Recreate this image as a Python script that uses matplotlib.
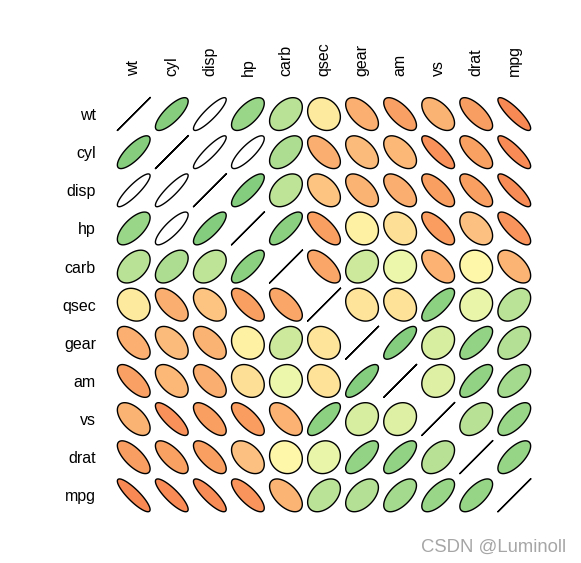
import numpy as np
import matplotlib
matplotlib.use('Agg')
import matplotlib.pyplot as plt
from matplotlib.colors import LinearSegmentedColormap

plt.rcParams['font.family'] = ['Liberation Sans', 'DejaVu Sans']

# mtcars correlations, hclust order
var_names = ["wt", "cyl", "disp", "hp", "carb", "qsec", "gear", "am", "vs", "drat", "mpg"]
corr_rows = [
    [1.000, 0.782, 0.888, 0.659, 0.428, -0.175, -0.583, -0.692, -0.555, -0.712, -0.868],
    [0.782, 1.000, 0.902, 0.832, 0.527, -0.591, -0.493, -0.523, -0.811, -0.700, -0.852],
    [0.888, 0.902, 1.000, 0.791, 0.395, -0.434, -0.556, -0.591, -0.710, -0.710, -0.848],
    [0.659, 0.832, 0.791, 1.000, 0.750, -0.708, -0.126, -0.243, -0.723, -0.449, -0.776],
    [0.428, 0.527, 0.395, 0.750, 1.000, -0.656, 0.274, 0.058, -0.570, -0.091, -0.551],
    [-0.175, -0.591, -0.434, -0.708, -0.656, 1.000, -0.213, -0.230, 0.745, 0.091, 0.419],
    [-0.583, -0.493, -0.556, -0.126, 0.274, -0.213, 1.000, 0.794, 0.206, 0.700, 0.480],
    [-0.692, -0.523, -0.591, -0.243, 0.058, -0.230, 0.794, 1.000, 0.168, 0.713, 0.600],
    [-0.555, -0.811, -0.710, -0.723, -0.570, 0.745, 0.206, 0.168, 1.000, 0.440, 0.664],
    [-0.712, -0.700, -0.710, -0.449, -0.091, 0.091, 0.700, 0.713, 0.440, 1.000, 0.681],
    [-0.868, -0.852, -0.848, -0.776, -0.551, 0.419, 0.480, 0.600, 0.664, 0.681, 1.000],
]
corr = np.array(corr_rows)
n = len(var_names)

# colour ramp (r -> colour)
ramp = [(-1.0, "#F37844"), (-0.868, "#F88A55"), (-0.7, "#F9A063"), (-0.55, "#FBB474"),
        (-0.43, "#FCC482"), (-0.24, "#FDE197"), (-0.1, "#FEF5A8"), (0.0, "#FDFDB6"),
        (0.06, "#EDF7AB"), (0.17, "#DDF0A3"), (0.27, "#CEEA9C"), (0.43, "#BAE297"),
        (0.6, "#A3DA8D"), (0.78, "#87CE7F"), (1.0, "#70C470")]
cmap = LinearSegmentedColormap.from_list("ramp", [((r + 1) / 2, c) for r, c in ramp])

fig = plt.figure(figsize=(5.81, 5.63), dpi=100)
ax = fig.add_axes([114.7 / 581, 1 - 514.4 / 563, 418.6 / 581, 419.4 / 563])

a = np.linspace(0, 2 * np.pi, 100)
for i in range(n):
    for j in range(n):
        r = corr[i, j]
        d = np.arccos(np.clip(r, -1, 1))
        ex = 0.43 * np.cos(a + d / 2) + (j + 1)
        ey = 0.43 * np.cos(a - d / 2) + (n - i)
        if i == j:
            ax.plot(ex, ey, color='black', lw=1.0)
            continue
        fc = 'none' if r > 0.8 else cmap((r + 1) / 2)
        ax.fill(ex, ey, facecolor=fc, edgecolor='black', lw=1.0)

ax.set_xlim(0.5, n + 0.5)
ax.set_ylim(0.5, n + 0.5)
ax.set_xticks(np.arange(1, n + 1))
ax.set_xticklabels(var_names, rotation=90, fontsize=11.5)
ax.set_yticks(np.arange(n, 0, -1))
ax.set_yticklabels(var_names, fontsize=11.5)
ax.xaxis.tick_top()
ax.tick_params(length=0, pad=13.5)
for s in ax.spines.values():
    s.set_visible(False)

fig.text(566 / 581, 1 - 552 / 563, "CSDN @Luminoll", ha='right', va='baseline',
         fontsize=13.3, color='#A6A6A6')

fig.savefig("out.png", dpi=100)
